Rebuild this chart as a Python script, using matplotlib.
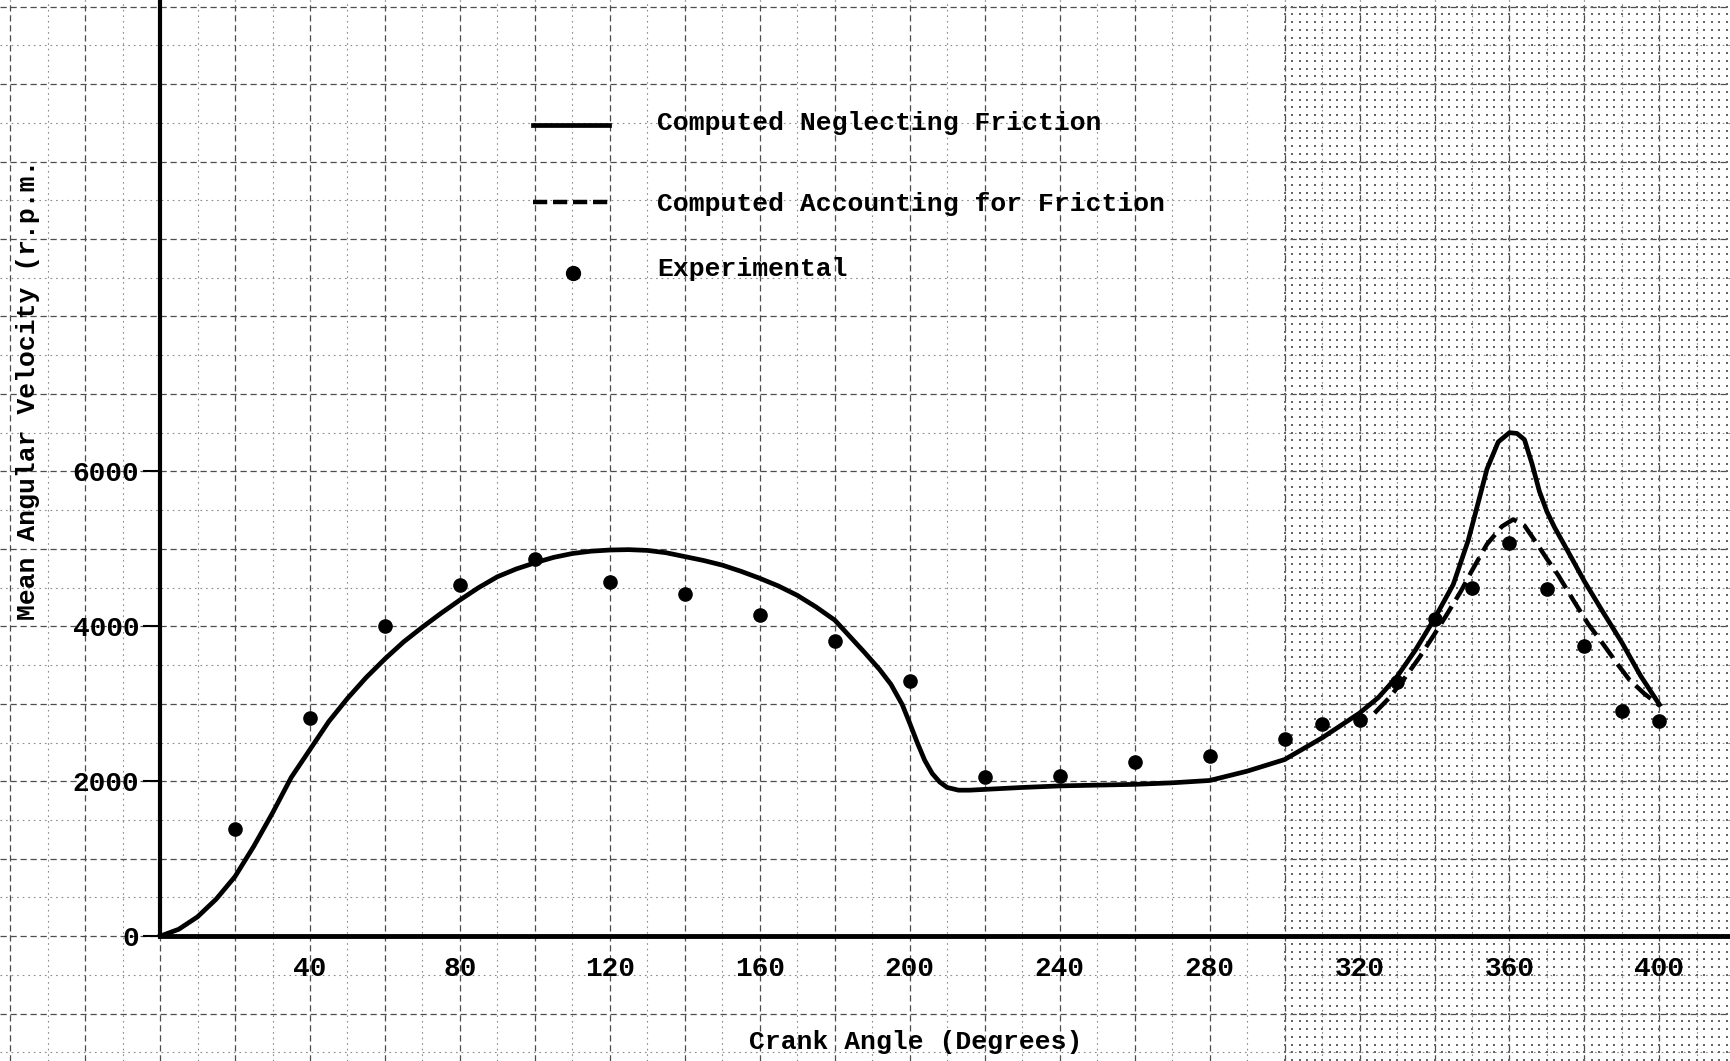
import matplotlib.pyplot as plt
import numpy as np

# computed, neglecting friction
angle_nf = [0, 5, 10, 15, 20, 25, 30, 35, 40, 45, 50, 55, 60, 65, 70, 75, 80, 85, 90, 95,
            100, 105, 110, 115, 120, 125, 130, 135, 140, 145, 150, 155, 160, 165, 170, 175,
            180, 184, 188, 192, 195, 198, 200, 202, 204, 206, 208, 210, 213, 216, 220, 230,
            240, 250, 260, 270, 280, 290, 300, 310, 320, 325, 330, 335, 340, 345, 349, 352,
            354, 357, 360, 362, 364, 366, 368, 370, 372, 375, 380, 385, 390, 395, 400]
rpm_nf = [0, 90, 250, 480, 770, 1160, 1590, 2050, 2410, 2770, 3070, 3340, 3580, 3800, 3990,
          4170, 4340, 4500, 4640, 4740, 4820, 4890, 4940, 4970, 4985, 4990, 4980, 4950, 4900,
          4850, 4790, 4710, 4620, 4520, 4400, 4250, 4080, 3870, 3660, 3440, 3250, 2990, 2750,
          2500, 2270, 2100, 1990, 1920, 1885, 1885, 1895, 1920, 1940, 1950, 1960, 1980, 2010,
          2130, 2280, 2560, 2880, 3080, 3350, 3700, 4100, 4540, 5110, 5660, 6030, 6380, 6500,
          6490, 6410, 6100, 5740, 5480, 5280, 5020, 4580, 4180, 3790, 3360, 2990]

# computed, accounting for friction
angle_f = [324, 328, 332, 336, 340, 343, 347, 350, 354, 358, 361, 364, 367, 370, 373, 377,
           381, 385, 389, 392, 396, 400]
rpm_f = [2880, 3080, 3330, 3600, 3900, 4130, 4450, 4720, 5060, 5290, 5380, 5300, 5090, 4870,
         4660, 4340, 4030, 3770, 3500, 3310, 3130, 2980]

# experimental
angle_exp = [20, 40, 60, 80, 100, 120, 140, 160, 180, 200, 220, 240, 260, 280,
             300, 310, 320, 330, 340, 350, 360, 370, 380, 390, 400]
rpm_exp = [1390, 2820, 4010, 4530, 4870, 4570, 4420, 4140, 3810, 3300, 2050, 2070, 2250, 2330,
           2550, 2740, 2790, 3280, 4100, 4500, 5080, 4480, 3750, 2910, 2780]

x_ticks = [40, 80, 120, 160, 200, 240, 280, 320, 360, 400]
y_ticks = [0, 2000, 4000, 6000]

plt.rcParams['font.family'] = 'Liberation Mono'
plt.rcParams['font.weight'] = 'bold'

fig = plt.figure(figsize=(17.31, 10.61), dpi=100)
ax = fig.add_axes([0, 0, 1, 1])
ax.set_xlim(-42.7, 419.1)
ax.set_ylim(-1611, 12085)

# graph paper
for x in np.arange(-40, 430, 10):
    major = x % 20 == 0
    ax.axvline(x, color='0.3' if major else '0.55', lw=0.9 if major else 0.8,
               ls=(0, (5, 3)) if major else (0, (1.5, 3.5)), zorder=0)
for y in np.arange(-1500, 12500, 500):
    major = y % 1000 == 0
    ax.axhline(y, color='0.3' if major else '0.55', lw=0.9 if major else 0.8,
               ls=(0, (5, 3)) if major else (0, (1.5, 3.5)), zorder=0)
gx, gy = np.meshgrid(np.arange(300, 420, 2), np.arange(-1600, 12100, 100))
ax.scatter(gx.ravel(), gy.ravel(), s=1.2, marker='s', color='0.4', lw=0, zorder=0)

ax.plot(angle_nf, rpm_nf, color='black', lw=3.4, solid_joinstyle='round', zorder=3)
ax.plot(angle_f, rpm_f, color='black', lw=3.2, ls=(0, (4.5, 1.8)), zorder=3)
ax.plot(angle_exp, rpm_exp, 'o', color='black', ms=9.5, zorder=4)

for s in ['top', 'right']:
    ax.spines[s].set_visible(False)
ax.spines['left'].set_position(('data', 0))
ax.spines['left'].set_bounds(0, 12085)
ax.spines['left'].set_linewidth(3)
ax.spines['bottom'].set_position(('data', 0))
ax.spines['bottom'].set_bounds(0, 419.1)
ax.spines['bottom'].set_linewidth(3.5)

ax.set_xticks(x_ticks)
ax.set_yticks(y_ticks)
ax.tick_params(axis='x', length=0, pad=14, labelsize=20)
ax.tick_params(axis='y', length=12, width=1.5, pad=3, labelsize=20)

# legend
tr = ax.transAxes
ax.plot([0.308, 0.352], [0.8825, 0.8825], color='black', lw=3.4, transform=tr)
ax.plot([0.308, 0.352], [0.8096, 0.8096], color='black', lw=3.2, ls=(0, (3.2, 1.3)), transform=tr)
ax.plot([0.331], [0.743], 'o', color='black', ms=10, transform=tr)
ax.text(0.3796, 0.8845, 'Computed Neglecting Friction', fontsize=19, va='center', transform=tr)
ax.text(0.3796, 0.8077, 'Computed Accounting for Friction', fontsize=19, va='center', transform=tr)
ax.text(0.3796, 0.7465, 'Experimental', fontsize=19, va='center', transform=tr)

fig.text(0.016, 0.633, 'Mean Angular Velocity (r.p.m.', fontsize=19, rotation=90,
         ha='center', va='center')
fig.text(0.529, 0.018, 'Crank Angle (Degrees)', fontsize=19, ha='center', va='center')

fig.savefig('out.png', dpi=100)
